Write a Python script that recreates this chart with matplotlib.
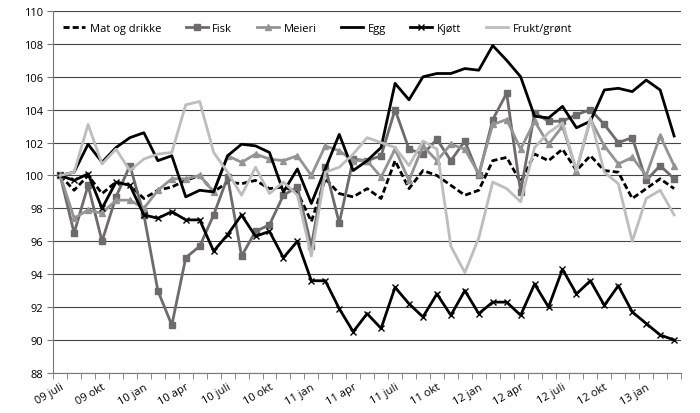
import matplotlib.pyplot as plt
import numpy as np

plt.rcParams['font.family'] = ['Liberation Sans Narrow', 'Open Sans', 'DejaVu Sans']

# monthly index, juli 2009 = 100, juli 2009 - mars 2013
mat_og_drikke = [100.0, 99.1, 100.0, 98.9, 99.6, 99.4, 98.6, 99.1, 99.3, 99.7,
                 100.0, 99.0, 99.6, 99.5, 99.7, 99.2, 99.3, 99.0, 97.2, 99.8,
                 98.9, 98.7, 99.2, 98.6, 100.9, 99.2, 100.3, 100.0, 99.4, 98.8,
                 99.1, 100.9, 101.1, 99.6, 101.3, 100.9, 101.6, 100.3, 101.2, 100.3,
                 100.2, 98.6, 99.2, 99.8, 99.2]
fisk = [100.0, 96.5, 99.4, 96.0, 98.7, 100.6, 97.6, 93.0, 90.9, 95.0,
        95.7, 97.6, 99.9, 95.1, 96.6, 97.0, 98.8, 99.3, 95.7, 100.5,
        97.1, 101.0, 100.9, 101.2, 104.0, 101.6, 101.3, 102.2, 100.9, 102.1,
        100.0, 103.4, 105.0, 99.0, 103.8, 103.3, 103.3, 103.7, 104.0, 103.1,
        102.0, 102.3, 99.7, 100.6, 99.8]
meieri = [100.0, 97.4, 97.9, 97.7, 98.5, 98.5, 98.0, 99.1, 99.8, 99.8,
          100.0, 99.0, 101.2, 100.8, 101.3, 101.0, 100.9, 101.2, 100.0, 101.8,
          101.5, 100.9, 100.9, 99.9, 101.6, 99.7, 101.8, 100.9, 101.9, 101.6,
          100.1, 103.1, 103.4, 101.6, 103.3, 101.9, 103.0, 100.3, 103.4, 101.8,
          100.7, 101.1, 100.0, 102.4, 100.6]
egg = [100.0, 100.2, 101.9, 100.8, 101.7, 102.3, 102.6, 100.9, 101.2, 98.7,
       99.1, 99.0, 101.2, 101.9, 101.8, 101.4, 99.0, 100.4, 98.3, 100.4,
       102.5, 100.3, 100.9, 101.7, 105.6, 104.6, 106.0, 106.2, 106.2, 106.5,
       106.4, 107.9, 107.0, 106.0, 103.6, 103.5, 104.2, 102.9, 103.3, 105.2,
       105.3, 105.1, 105.8, 105.2, 102.4]
kjott = [100.0, 99.7, 100.1, 98.0, 99.6, 99.4, 97.6, 97.4, 97.8, 97.3,
         97.3, 95.4, 96.4, 97.6, 96.3, 96.6, 95.0, 96.0, 93.6, 93.6,
         91.9, 90.5, 91.6, 90.7, 93.2, 92.2, 91.4, 92.8, 91.5, 93.0,
         91.6, 92.3, 92.3, 91.5, 93.4, 92.0, 94.3, 92.8, 93.6, 92.1,
         93.3, 91.7, 91.0, 90.3, 90.0]
frukt_gront = [100.0, 100.2, 103.1, 100.7, 101.6, 100.3, 101.0, 101.3, 101.4, 104.3,
               104.5, 101.4, 100.2, 98.8, 100.5, 98.9, 99.6, 98.8, 95.1, 100.2,
               100.5, 101.3, 102.3, 102.0, 101.7, 100.6, 102.1, 101.6, 95.7, 94.1,
               96.2, 99.6, 99.2, 98.4, 101.7, 102.6, 103.2, 100.3, 103.5, 100.2,
               99.5, 96.0, 98.6, 99.1, 97.6]

tick_labels = ['09 juli', '09 okt', '10 jan', '10 apr', '10 juli', '10 okt',
               '11 jan', '11 apr', '11 juli', '11 okt', '12 jan', '12 apr',
               '12 juli', '12 okt', '13 jan']

n = len(egg)
x = np.arange(n)

fig = plt.figure(figsize=(7, 4.14), dpi=100)
ax = fig.add_axes([0.076, 0.097, 0.897, 0.874])

ax.plot(x, mat_og_drikke, color='black', lw=2, ls=(0, (2.2, 1.1)), label='Mat og drikke', zorder=3)
ax.plot(x, fisk, color='#6e6b6b', lw=2, marker='s', ms=5, label='Fisk', zorder=3)
ax.plot(x, meieri, color='#949494', lw=2, marker='^', ms=5, label='Meieri', zorder=3)
ax.plot(x, egg, color='black', lw=2, label='Egg', zorder=3)
ax.plot(x, kjott, color='black', lw=2, marker='x', ms=5, mew=1, label='Kjøtt', zorder=3)
ax.plot(x, frukt_gront, color='#bdbdbd', lw=2, label='Frukt/grønt', zorder=3)

ax.set_xlim(-0.5, n - 0.5)
ax.set_ylim(88, 110)
ax.set_yticks(np.arange(88, 111, 2))
ax.yaxis.grid(True, color='#444444', lw=0.8)
ax.set_axisbelow(True)

ax.set_xticks(x[::3])
ax.set_xticklabels(tick_labels, rotation=30, ha='right', rotation_mode='anchor')
ax.set_xticks(np.arange(-0.5, n, 1), minor=True)
ax.tick_params(axis='x', which='major', length=0, labelsize=8, pad=6)
ax.tick_params(axis='x', which='minor', length=4, color='#777777')
ax.tick_params(axis='y', length=4, color='#777777', labelsize=8)

for s in ['top', 'right']:
    ax.spines[s].set_visible(False)
for s in ['left', 'bottom']:
    ax.spines[s].set_color('#777777')

ax.legend(loc='upper left', bbox_to_anchor=(0.0, 0.995), ncol=6, frameon=False,
          fontsize=8, handlelength=2.0, handletextpad=0.4, columnspacing=2.2)

plt.savefig('out.png', dpi=100)
